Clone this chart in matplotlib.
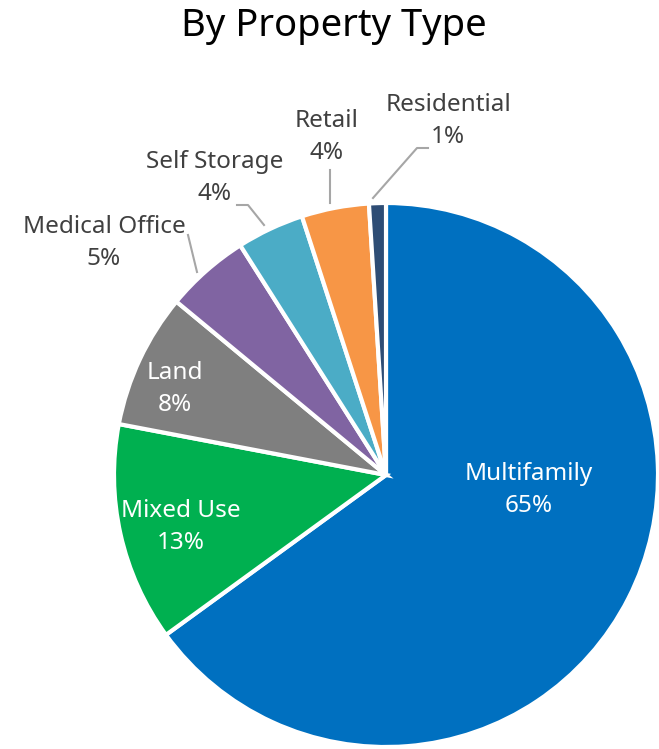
import numpy as np
import matplotlib.pyplot as plt

labels = ['Multifamily', 'Mixed Use', 'Land', 'Medical Office',
          'Self Storage', 'Retail', 'Residential']
values = [65, 13, 8, 5, 4, 4, 1]
colors = ['#0070C0', '#00B050', '#7F7F7F', '#8064A2',
          '#4BACC6', '#F79646', '#2E4D75']

W, H = 659, 749
fig = plt.figure(figsize=(W / 100, H / 100), dpi=100)
ax = fig.add_axes([0, 0, 1, 1])

cx, cy, r = 386, H - 475, 272
wedges, _ = ax.pie(values, colors=colors, startangle=90, counterclock=False,
                   center=(cx, cy), radius=r, frame=True,
                   wedgeprops=dict(edgecolor='white', linewidth=3))
ax.set_xlim(0, W)
ax.set_ylim(0, H)
ax.axis('off')

font = 'Noto Sans'
# label positions (pixel, from top), text colour
pos = {
    'Multifamily': (529, 490, 'white'),
    'Mixed Use': (181, 527, 'white'),
    'Land': (175, 389, 'white'),
    'Medical Office': (104, 243, '#404040'),
    'Self Storage': (215, 178, '#404040'),
    'Retail': (327, 137, '#404040'),
    'Residential': (448, 121, '#404040'),
}
for lab, v in zip(labels, values):
    x, y, c = pos[lab]
    ax.text(x, H - y, f'{lab}\n{v}%', ha='center', va='center', color=c,
            fontsize=17.5, family=font, linespacing=1.4)

# leader lines: label anchor -> elbow -> wedge edge
leaders = {
    'Medical Office': [(188, 235), (197, 272)],
    'Self Storage': [(237, 205), (248, 205), (264, 225)],
    'Retail': [(330, 170), (330, 203)],
    'Residential': [(428, 148), (417, 148), (373, 198)],
}
for lab, pts in leaders.items():
    xs = [p[0] for p in pts]
    ys = [H - p[1] for p in pts]
    ax.plot(xs, ys, color='#A6A6A6', lw=1.5)

fig.text(334 / W, 1 - 26 / H, 'By Property Type', ha='center', va='center',
         fontsize=27.5, family=font, color='black')

fig.savefig('out.png', dpi=100)
